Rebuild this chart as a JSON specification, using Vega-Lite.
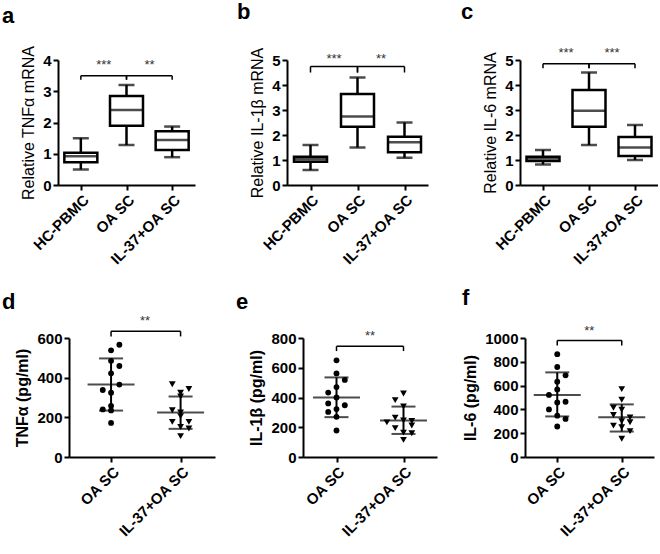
{
  "$schema": "https://vega.github.io/schema/vega-lite/v6.json",
  "padding": {"left": 2, "top": 0, "right": 0, "bottom": 0},
  "config": {
    "font": "Liberation Sans",
    "view": {"stroke": null},
    "axis": {"grid": false, "domainColor": "#000", "domainWidth": 2, "tickColor": "#000", "tickWidth": 2, "tickSize": 5,
      "labelFont": "Liberation Sans", "labelFontSize": 15, "labelFontWeight": "bold", "labelColor": "#000", "labelPadding": 2,
      "titleFont": "Liberation Sans", "titleFontSize": 16, "titleColor": "#000", "titlePadding": 6},
    "axisX": {"labelAngle": -45, "labelAlign": "right", "labelBaseline": "top"},
    "title": {"fontSize": 22, "fontWeight": "bold", "color": "#000", "anchor": "start", "frame": "group", "font": "Liberation Sans"}
  },
  "datasets": {
    "box_tnf": [
      {"group": "HC-PBMC", "min": 0.5, "q1": 0.73, "median": 0.92, "q3": 1.03, "max": 1.5},
      {"group": "OA SC", "min": 1.28, "q1": 1.9, "median": 2.4, "q3": 2.85, "max": 3.2},
      {"group": "IL-37+OA SC", "min": 0.89, "q1": 1.12, "median": 1.44, "q3": 1.72, "max": 1.87}
    ],
    "box_il1b": [
      {"group": "HC-PBMC", "min": 0.6, "q1": 0.93, "median": 1.03, "q3": 1.13, "max": 1.6},
      {"group": "OA SC", "min": 1.5, "q1": 2.33, "median": 2.74, "q3": 3.64, "max": 4.3},
      {"group": "IL-37+OA SC", "min": 1.09, "q1": 1.31, "median": 1.71, "q3": 1.93, "max": 2.5}
    ],
    "box_il6": [
      {"group": "HC-PBMC", "min": 0.82, "q1": 0.96, "median": 1.06, "q3": 1.13, "max": 1.4},
      {"group": "OA SC", "min": 1.6, "q1": 2.33, "median": 2.97, "q3": 3.8, "max": 4.5},
      {"group": "IL-37+OA SC", "min": 1.0, "q1": 1.16, "median": 1.5, "q3": 1.92, "max": 2.4}
    ],
    "sig_tnf_mrna": [
      {"from": "HC-PBMC", "to": "OA SC", "top": 3.5, "foot": 3.37, "stary": 3.85, "label": "***"},
      {"from": "OA SC", "to": "IL-37+OA SC", "top": 3.5, "foot": 3.37, "stary": 3.85, "label": "**"}
    ],
    "sig_il1b_mrna": [
      {"from": "HC-PBMC", "to": "OA SC", "top": 4.74, "foot": 4.5, "stary": 5.04, "label": "***"},
      {"from": "OA SC", "to": "IL-37+OA SC", "top": 4.74, "foot": 4.5, "stary": 5.04, "label": "**"}
    ],
    "sig_il6_mrna": [
      {"from": "HC-PBMC", "to": "OA SC", "top": 4.85, "foot": 4.67, "stary": 5.28, "label": "***"},
      {"from": "OA SC", "to": "IL-37+OA SC", "top": 4.85, "foot": 4.67, "stary": 5.28, "label": "***"}
    ],
    "pts_tnf": [
      {"group": "OA SC", "value": 566, "lane": 1}, {"group": "OA SC", "value": 538, "lane": 0}, {"group": "OA SC", "value": 485, "lane": 0},
      {"group": "OA SC", "value": 459, "lane": 1}, {"group": "OA SC", "value": 422, "lane": 0}, {"group": "OA SC", "value": 365, "lane": 1},
      {"group": "OA SC", "value": 338, "lane": -1}, {"group": "OA SC", "value": 324, "lane": 0}, {"group": "OA SC", "value": 258, "lane": 0},
      {"group": "OA SC", "value": 240, "lane": -1}, {"group": "OA SC", "value": 235, "lane": 0}, {"group": "OA SC", "value": 172, "lane": 0},
      {"group": "IL-37+OA SC", "value": 367, "lane": -1}, {"group": "IL-37+OA SC", "value": 343, "lane": 1}, {"group": "IL-37+OA SC", "value": 324, "lane": 0},
      {"group": "IL-37+OA SC", "value": 305, "lane": 0}, {"group": "IL-37+OA SC", "value": 236, "lane": -1}, {"group": "IL-37+OA SC", "value": 225, "lane": 0},
      {"group": "IL-37+OA SC", "value": 206, "lane": 0}, {"group": "IL-37+OA SC", "value": 177, "lane": -1}, {"group": "IL-37+OA SC", "value": 177, "lane": 1},
      {"group": "IL-37+OA SC", "value": 152, "lane": 0}, {"group": "IL-37+OA SC", "value": 144, "lane": 1}, {"group": "IL-37+OA SC", "value": 105, "lane": 0}
    ],
    "pts_il1b": [
      {"group": "OA SC", "value": 650, "lane": 0}, {"group": "OA SC", "value": 562, "lane": 0}, {"group": "OA SC", "value": 518, "lane": 1},
      {"group": "OA SC", "value": 470, "lane": 0}, {"group": "OA SC", "value": 433, "lane": -1}, {"group": "OA SC", "value": 400, "lane": 0},
      {"group": "OA SC", "value": 360, "lane": -1}, {"group": "OA SC", "value": 348, "lane": 1}, {"group": "OA SC", "value": 322, "lane": 0},
      {"group": "OA SC", "value": 303, "lane": -1}, {"group": "OA SC", "value": 270, "lane": 0}, {"group": "OA SC", "value": 178, "lane": 0},
      {"group": "IL-37+OA SC", "value": 427, "lane": 0}, {"group": "IL-37+OA SC", "value": 382, "lane": -1}, {"group": "IL-37+OA SC", "value": 340, "lane": 0},
      {"group": "IL-37+OA SC", "value": 265, "lane": -1}, {"group": "IL-37+OA SC", "value": 246, "lane": 0}, {"group": "IL-37+OA SC", "value": 242, "lane": 1},
      {"group": "IL-37+OA SC", "value": 233, "lane": -2}, {"group": "IL-37+OA SC", "value": 212, "lane": 1}, {"group": "IL-37+OA SC", "value": 194, "lane": -1},
      {"group": "IL-37+OA SC", "value": 164, "lane": 0}, {"group": "IL-37+OA SC", "value": 160, "lane": 1}, {"group": "IL-37+OA SC", "value": 115, "lane": 0}
    ],
    "pts_il6": [
      {"group": "OA SC", "value": 864, "lane": 0}, {"group": "OA SC", "value": 756, "lane": 0}, {"group": "OA SC", "value": 686, "lane": 1},
      {"group": "OA SC", "value": 633, "lane": 0}, {"group": "OA SC", "value": 567, "lane": 0}, {"group": "OA SC", "value": 522, "lane": -1},
      {"group": "OA SC", "value": 458, "lane": 0}, {"group": "OA SC", "value": 464, "lane": 1}, {"group": "OA SC", "value": 400, "lane": -1},
      {"group": "OA SC", "value": 347, "lane": 0}, {"group": "OA SC", "value": 320, "lane": 1}, {"group": "OA SC", "value": 256, "lane": 0},
      {"group": "IL-37+OA SC", "value": 570, "lane": 0}, {"group": "IL-37+OA SC", "value": 481, "lane": 0}, {"group": "IL-37+OA SC", "value": 414, "lane": -1},
      {"group": "IL-37+OA SC", "value": 397, "lane": 0}, {"group": "IL-37+OA SC", "value": 353, "lane": -1}, {"group": "IL-37+OA SC", "value": 333, "lane": 1},
      {"group": "IL-37+OA SC", "value": 300, "lane": 0}, {"group": "IL-37+OA SC", "value": 292, "lane": 1}, {"group": "IL-37+OA SC", "value": 264, "lane": -1},
      {"group": "IL-37+OA SC", "value": 250, "lane": 0}, {"group": "IL-37+OA SC", "value": 217, "lane": 1}, {"group": "IL-37+OA SC", "value": 153, "lane": 0}
    ],
    "sum_tnf": [
      {"group": "OA SC", "mean": 366, "lo": 234, "hi": 497},
      {"group": "IL-37+OA SC", "mean": 225, "lo": 142, "hi": 305}
    ],
    "sum_il1b": [
      {"group": "OA SC", "mean": 400, "lo": 268, "hi": 535},
      {"group": "IL-37+OA SC", "mean": 246, "lo": 155, "hi": 339}
    ],
    "sum_il6": [
      {"group": "OA SC", "mean": 522, "lo": 341, "hi": 711},
      {"group": "IL-37+OA SC", "mean": 333, "lo": 214, "hi": 442}
    ],
    "sig_tnf": [{"from": "OA SC", "to": "IL-37+OA SC", "top": 634, "foot": 608, "stary": 685, "label": "**"}],
    "sig_il1b": [{"from": "OA SC", "to": "IL-37+OA SC", "top": 744, "foot": 712, "stary": 814, "label": "**"}],
    "sig_il6": [{"from": "OA SC", "to": "IL-37+OA SC", "top": 980, "foot": 936, "stary": 1055, "label": "**"}]
  },
  "spacing": 19,
  "vconcat": [
    {
      "bounds": "flush",
      "spacing": 92,
      "hconcat": [
        {
          "width": 137, "height": 125,
          "title": {"text": "a", "dx": -56, "offset": 17},
          "layer": [
            {"data": {"name": "box_tnf"}, "mark": {"type": "rule", "strokeWidth": 2.5, "color": "#000"},
             "encoding": {
               "x": {"field": "group", "type": "nominal", "scale": {"type": "point", "domain": ["HC-PBMC", "OA SC", "IL-37+OA SC"], "padding": 0.5}, "axis": {"title": null}},
               "y": {"field": "min", "type": "quantitative", "scale": {"domain": [0, 4], "nice": false}, "axis": {"values": [0, 1, 2, 3, 4], "labelOverlap": false, "labelFlush": false, "title": "Relative TNFα mRNA", "titleFontWeight": "normal"}},
               "y2": {"field": "max"}}},
            {"data": {"name": "box_tnf"}, "mark": {"type": "bar", "size": 33, "fill": "#fff", "stroke": "#000", "strokeWidth": 2.5},
             "encoding": {
               "x": {"field": "group", "type": "nominal", "scale": {"type": "point", "domain": ["HC-PBMC", "OA SC", "IL-37+OA SC"], "padding": 0.5}, "axis": {"title": null}},
               "y": {"field": "q1", "type": "quantitative", "scale": {"domain": [0, 4], "nice": false}, "axis": {"values": [0, 1, 2, 3, 4], "labelOverlap": false, "labelFlush": false, "title": "Relative TNFα mRNA", "titleFontWeight": "normal"}},
               "y2": {"field": "q3"}}},
            {"data": {"name": "box_tnf"}, "mark": {"type": "tick", "size": 33, "thickness": 2.5, "color": "#000"},
             "encoding": {
               "x": {"field": "group", "type": "nominal", "scale": {"type": "point", "domain": ["HC-PBMC", "OA SC", "IL-37+OA SC"], "padding": 0.5}, "axis": {"title": null}},
               "y": {"field": "median", "type": "quantitative", "scale": {"domain": [0, 4], "nice": false}, "axis": {"values": [0, 1, 2, 3, 4], "labelOverlap": false, "labelFlush": false, "title": "Relative TNFα mRNA", "titleFontWeight": "normal"}}}},
            {"data": {"name": "box_tnf"}, "mark": {"type": "tick", "size": 16, "thickness": 2.5, "color": "#000"},
             "encoding": {
               "x": {"field": "group", "type": "nominal", "scale": {"type": "point", "domain": ["HC-PBMC", "OA SC", "IL-37+OA SC"], "padding": 0.5}, "axis": {"title": null}},
               "y": {"field": "min", "type": "quantitative", "scale": {"domain": [0, 4], "nice": false}, "axis": {"values": [0, 1, 2, 3, 4], "labelOverlap": false, "labelFlush": false, "title": "Relative TNFα mRNA", "titleFontWeight": "normal"}}}},
            {"data": {"name": "box_tnf"}, "mark": {"type": "tick", "size": 16, "thickness": 2.5, "color": "#000"},
             "encoding": {
               "x": {"field": "group", "type": "nominal", "scale": {"type": "point", "domain": ["HC-PBMC", "OA SC", "IL-37+OA SC"], "padding": 0.5}, "axis": {"title": null}},
               "y": {"field": "max", "type": "quantitative", "scale": {"domain": [0, 4], "nice": false}, "axis": {"values": [0, 1, 2, 3, 4], "labelOverlap": false, "labelFlush": false, "title": "Relative TNFα mRNA", "titleFontWeight": "normal"}}}},
            {"data": {"name": "sig_tnf_mrna"}, "mark": {"type": "rule", "strokeWidth": 1.5, "color": "#000"},
             "encoding": {
               "x": {"field": "from", "type": "nominal", "scale": {"type": "point", "domain": ["HC-PBMC", "OA SC", "IL-37+OA SC"], "padding": 0.5}, "axis": {"title": null}},
               "x2": {"field": "to"},
               "y": {"field": "top", "type": "quantitative", "scale": {"domain": [0, 4], "nice": false}, "axis": {"values": [0, 1, 2, 3, 4], "labelOverlap": false, "labelFlush": false, "title": "Relative TNFα mRNA", "titleFontWeight": "normal"}}}},
            {"data": {"name": "sig_tnf_mrna"}, "mark": {"type": "rule", "strokeWidth": 1.5, "color": "#000"},
             "encoding": {
               "x": {"field": "from", "type": "nominal", "scale": {"type": "point", "domain": ["HC-PBMC", "OA SC", "IL-37+OA SC"], "padding": 0.5}, "axis": {"title": null}},
               "y": {"field": "foot", "type": "quantitative", "scale": {"domain": [0, 4], "nice": false}, "axis": {"values": [0, 1, 2, 3, 4], "labelOverlap": false, "labelFlush": false, "title": "Relative TNFα mRNA", "titleFontWeight": "normal"}},
               "y2": {"field": "top"}}},
            {"data": {"name": "sig_tnf_mrna"}, "mark": {"type": "rule", "strokeWidth": 1.5, "color": "#000"},
             "encoding": {
               "x": {"field": "to", "type": "nominal", "scale": {"type": "point", "domain": ["HC-PBMC", "OA SC", "IL-37+OA SC"], "padding": 0.5}, "axis": {"title": null}},
               "y": {"field": "foot", "type": "quantitative", "scale": {"domain": [0, 4], "nice": false}, "axis": {"values": [0, 1, 2, 3, 4], "labelOverlap": false, "labelFlush": false, "title": "Relative TNFα mRNA", "titleFontWeight": "normal"}},
               "y2": {"field": "top"}}},
            {"data": {"name": "sig_tnf_mrna"}, "mark": {"type": "text", "dx": 23, "fontSize": 13, "color": "#333", "baseline": "middle"},
             "encoding": {
               "x": {"field": "from", "type": "nominal", "scale": {"type": "point", "domain": ["HC-PBMC", "OA SC", "IL-37+OA SC"], "padding": 0.5}, "axis": {"title": null}},
               "y": {"field": "stary", "type": "quantitative", "scale": {"domain": [0, 4], "nice": false}, "axis": {"values": [0, 1, 2, 3, 4], "labelOverlap": false, "labelFlush": false, "title": "Relative TNFα mRNA", "titleFontWeight": "normal"}},
               "text": {"field": "label"}}}
          ]
        },
        {
          "width": 141, "height": 125,
          "title": {"text": "b", "dx": -50, "offset": 23},
          "layer": [
            {"data": {"name": "box_il1b"}, "mark": {"type": "rule", "strokeWidth": 2.5, "color": "#000"},
             "encoding": {
               "x": {"field": "group", "type": "nominal", "scale": {"type": "point", "domain": ["HC-PBMC", "OA SC", "IL-37+OA SC"], "padding": 0.5}, "axis": {"title": null}},
               "y": {"field": "min", "type": "quantitative", "scale": {"domain": [0, 5], "nice": false}, "axis": {"values": [0, 1, 2, 3, 4, 5], "labelOverlap": false, "labelFlush": false, "title": "Relative IL-1β mRNA", "titleFontWeight": "normal"}},
               "y2": {"field": "max"}}},
            {"data": {"name": "box_il1b"}, "mark": {"type": "bar", "size": 33, "fill": "#fff", "stroke": "#000", "strokeWidth": 2.5},
             "encoding": {
               "x": {"field": "group", "type": "nominal", "scale": {"type": "point", "domain": ["HC-PBMC", "OA SC", "IL-37+OA SC"], "padding": 0.5}, "axis": {"title": null}},
               "y": {"field": "q1", "type": "quantitative", "scale": {"domain": [0, 5], "nice": false}, "axis": {"values": [0, 1, 2, 3, 4, 5], "labelOverlap": false, "labelFlush": false, "title": "Relative IL-1β mRNA", "titleFontWeight": "normal"}},
               "y2": {"field": "q3"}}},
            {"data": {"name": "box_il1b"}, "mark": {"type": "tick", "size": 33, "thickness": 2.5, "color": "#000"},
             "encoding": {
               "x": {"field": "group", "type": "nominal", "scale": {"type": "point", "domain": ["HC-PBMC", "OA SC", "IL-37+OA SC"], "padding": 0.5}, "axis": {"title": null}},
               "y": {"field": "median", "type": "quantitative", "scale": {"domain": [0, 5], "nice": false}, "axis": {"values": [0, 1, 2, 3, 4, 5], "labelOverlap": false, "labelFlush": false, "title": "Relative IL-1β mRNA", "titleFontWeight": "normal"}}}},
            {"data": {"name": "box_il1b"}, "mark": {"type": "tick", "size": 16, "thickness": 2.5, "color": "#000"},
             "encoding": {
               "x": {"field": "group", "type": "nominal", "scale": {"type": "point", "domain": ["HC-PBMC", "OA SC", "IL-37+OA SC"], "padding": 0.5}, "axis": {"title": null}},
               "y": {"field": "min", "type": "quantitative", "scale": {"domain": [0, 5], "nice": false}, "axis": {"values": [0, 1, 2, 3, 4, 5], "labelOverlap": false, "labelFlush": false, "title": "Relative IL-1β mRNA", "titleFontWeight": "normal"}}}},
            {"data": {"name": "box_il1b"}, "mark": {"type": "tick", "size": 16, "thickness": 2.5, "color": "#000"},
             "encoding": {
               "x": {"field": "group", "type": "nominal", "scale": {"type": "point", "domain": ["HC-PBMC", "OA SC", "IL-37+OA SC"], "padding": 0.5}, "axis": {"title": null}},
               "y": {"field": "max", "type": "quantitative", "scale": {"domain": [0, 5], "nice": false}, "axis": {"values": [0, 1, 2, 3, 4, 5], "labelOverlap": false, "labelFlush": false, "title": "Relative IL-1β mRNA", "titleFontWeight": "normal"}}}},
            {"data": {"name": "sig_il1b_mrna"}, "mark": {"type": "rule", "strokeWidth": 1.5, "color": "#000"},
             "encoding": {
               "x": {"field": "from", "type": "nominal", "scale": {"type": "point", "domain": ["HC-PBMC", "OA SC", "IL-37+OA SC"], "padding": 0.5}, "axis": {"title": null}},
               "x2": {"field": "to"},
               "y": {"field": "top", "type": "quantitative", "scale": {"domain": [0, 5], "nice": false}, "axis": {"values": [0, 1, 2, 3, 4, 5], "labelOverlap": false, "labelFlush": false, "title": "Relative IL-1β mRNA", "titleFontWeight": "normal"}}}},
            {"data": {"name": "sig_il1b_mrna"}, "mark": {"type": "rule", "strokeWidth": 1.5, "color": "#000"},
             "encoding": {
               "x": {"field": "from", "type": "nominal", "scale": {"type": "point", "domain": ["HC-PBMC", "OA SC", "IL-37+OA SC"], "padding": 0.5}, "axis": {"title": null}},
               "y": {"field": "foot", "type": "quantitative", "scale": {"domain": [0, 5], "nice": false}, "axis": {"values": [0, 1, 2, 3, 4, 5], "labelOverlap": false, "labelFlush": false, "title": "Relative IL-1β mRNA", "titleFontWeight": "normal"}},
               "y2": {"field": "top"}}},
            {"data": {"name": "sig_il1b_mrna"}, "mark": {"type": "rule", "strokeWidth": 1.5, "color": "#000"},
             "encoding": {
               "x": {"field": "to", "type": "nominal", "scale": {"type": "point", "domain": ["HC-PBMC", "OA SC", "IL-37+OA SC"], "padding": 0.5}, "axis": {"title": null}},
               "y": {"field": "foot", "type": "quantitative", "scale": {"domain": [0, 5], "nice": false}, "axis": {"values": [0, 1, 2, 3, 4, 5], "labelOverlap": false, "labelFlush": false, "title": "Relative IL-1β mRNA", "titleFontWeight": "normal"}},
               "y2": {"field": "top"}}},
            {"data": {"name": "sig_il1b_mrna"}, "mark": {"type": "text", "dx": 23.5, "fontSize": 13, "color": "#333", "baseline": "middle"},
             "encoding": {
               "x": {"field": "from", "type": "nominal", "scale": {"type": "point", "domain": ["HC-PBMC", "OA SC", "IL-37+OA SC"], "padding": 0.5}, "axis": {"title": null}},
               "y": {"field": "stary", "type": "quantitative", "scale": {"domain": [0, 5], "nice": false}, "axis": {"values": [0, 1, 2, 3, 4, 5], "labelOverlap": false, "labelFlush": false, "title": "Relative IL-1β mRNA", "titleFontWeight": "normal"}},
               "text": {"field": "label"}}}
          ]
        },
        {
          "width": 138, "height": 125,
          "title": {"text": "c", "dx": -59, "offset": 23},
          "layer": [
            {"data": {"name": "box_il6"}, "mark": {"type": "rule", "strokeWidth": 2.5, "color": "#000"},
             "encoding": {
               "x": {"field": "group", "type": "nominal", "scale": {"type": "point", "domain": ["HC-PBMC", "OA SC", "IL-37+OA SC"], "padding": 0.5}, "axis": {"title": null}},
               "y": {"field": "min", "type": "quantitative", "scale": {"domain": [0, 5], "nice": false}, "axis": {"values": [0, 1, 2, 3, 4, 5], "labelOverlap": false, "labelFlush": false, "title": "Relative IL-6 mRNA", "titleFontWeight": "normal"}},
               "y2": {"field": "max"}}},
            {"data": {"name": "box_il6"}, "mark": {"type": "bar", "size": 33, "fill": "#fff", "stroke": "#000", "strokeWidth": 2.5},
             "encoding": {
               "x": {"field": "group", "type": "nominal", "scale": {"type": "point", "domain": ["HC-PBMC", "OA SC", "IL-37+OA SC"], "padding": 0.5}, "axis": {"title": null}},
               "y": {"field": "q1", "type": "quantitative", "scale": {"domain": [0, 5], "nice": false}, "axis": {"values": [0, 1, 2, 3, 4, 5], "labelOverlap": false, "labelFlush": false, "title": "Relative IL-6 mRNA", "titleFontWeight": "normal"}},
               "y2": {"field": "q3"}}},
            {"data": {"name": "box_il6"}, "mark": {"type": "tick", "size": 33, "thickness": 2.5, "color": "#000"},
             "encoding": {
               "x": {"field": "group", "type": "nominal", "scale": {"type": "point", "domain": ["HC-PBMC", "OA SC", "IL-37+OA SC"], "padding": 0.5}, "axis": {"title": null}},
               "y": {"field": "median", "type": "quantitative", "scale": {"domain": [0, 5], "nice": false}, "axis": {"values": [0, 1, 2, 3, 4, 5], "labelOverlap": false, "labelFlush": false, "title": "Relative IL-6 mRNA", "titleFontWeight": "normal"}}}},
            {"data": {"name": "box_il6"}, "mark": {"type": "tick", "size": 16, "thickness": 2.5, "color": "#000"},
             "encoding": {
               "x": {"field": "group", "type": "nominal", "scale": {"type": "point", "domain": ["HC-PBMC", "OA SC", "IL-37+OA SC"], "padding": 0.5}, "axis": {"title": null}},
               "y": {"field": "min", "type": "quantitative", "scale": {"domain": [0, 5], "nice": false}, "axis": {"values": [0, 1, 2, 3, 4, 5], "labelOverlap": false, "labelFlush": false, "title": "Relative IL-6 mRNA", "titleFontWeight": "normal"}}}},
            {"data": {"name": "box_il6"}, "mark": {"type": "tick", "size": 16, "thickness": 2.5, "color": "#000"},
             "encoding": {
               "x": {"field": "group", "type": "nominal", "scale": {"type": "point", "domain": ["HC-PBMC", "OA SC", "IL-37+OA SC"], "padding": 0.5}, "axis": {"title": null}},
               "y": {"field": "max", "type": "quantitative", "scale": {"domain": [0, 5], "nice": false}, "axis": {"values": [0, 1, 2, 3, 4, 5], "labelOverlap": false, "labelFlush": false, "title": "Relative IL-6 mRNA", "titleFontWeight": "normal"}}}},
            {"data": {"name": "sig_il6_mrna"}, "mark": {"type": "rule", "strokeWidth": 1.5, "color": "#000"},
             "encoding": {
               "x": {"field": "from", "type": "nominal", "scale": {"type": "point", "domain": ["HC-PBMC", "OA SC", "IL-37+OA SC"], "padding": 0.5}, "axis": {"title": null}},
               "x2": {"field": "to"},
               "y": {"field": "top", "type": "quantitative", "scale": {"domain": [0, 5], "nice": false}, "axis": {"values": [0, 1, 2, 3, 4, 5], "labelOverlap": false, "labelFlush": false, "title": "Relative IL-6 mRNA", "titleFontWeight": "normal"}}}},
            {"data": {"name": "sig_il6_mrna"}, "mark": {"type": "rule", "strokeWidth": 1.5, "color": "#000"},
             "encoding": {
               "x": {"field": "from", "type": "nominal", "scale": {"type": "point", "domain": ["HC-PBMC", "OA SC", "IL-37+OA SC"], "padding": 0.5}, "axis": {"title": null}},
               "y": {"field": "foot", "type": "quantitative", "scale": {"domain": [0, 5], "nice": false}, "axis": {"values": [0, 1, 2, 3, 4, 5], "labelOverlap": false, "labelFlush": false, "title": "Relative IL-6 mRNA", "titleFontWeight": "normal"}},
               "y2": {"field": "top"}}},
            {"data": {"name": "sig_il6_mrna"}, "mark": {"type": "rule", "strokeWidth": 1.5, "color": "#000"},
             "encoding": {
               "x": {"field": "to", "type": "nominal", "scale": {"type": "point", "domain": ["HC-PBMC", "OA SC", "IL-37+OA SC"], "padding": 0.5}, "axis": {"title": null}},
               "y": {"field": "foot", "type": "quantitative", "scale": {"domain": [0, 5], "nice": false}, "axis": {"values": [0, 1, 2, 3, 4, 5], "labelOverlap": false, "labelFlush": false, "title": "Relative IL-6 mRNA", "titleFontWeight": "normal"}},
               "y2": {"field": "top"}}},
            {"data": {"name": "sig_il6_mrna"}, "mark": {"type": "text", "dx": 23, "fontSize": 13, "color": "#333", "baseline": "middle"},
             "encoding": {
               "x": {"field": "from", "type": "nominal", "scale": {"type": "point", "domain": ["HC-PBMC", "OA SC", "IL-37+OA SC"], "padding": 0.5}, "axis": {"title": null}},
               "y": {"field": "stary", "type": "quantitative", "scale": {"domain": [0, 5], "nice": false}, "axis": {"values": [0, 1, 2, 3, 4, 5], "labelOverlap": false, "labelFlush": false, "title": "Relative IL-6 mRNA", "titleFontWeight": "normal"}},
               "text": {"field": "label"}}}
          ]
        }
      ]
    },
    {
      "bounds": "flush",
      "spacing": 88,
      "hconcat": [
        {
          "width": 157, "height": 119,
          "title": {"text": "d", "dx": -56, "offset": 1},
          "layer": [
            {"data": {"name": "pts_tnf"}, "mark": {"type": "point", "filled": true, "opacity": 1, "color": "#000"},
             "encoding": {
               "x": {"field": "group", "type": "nominal", "scale": {"type": "point", "domain": ["OA SC", "IL-37+OA SC"], "range": [11, 157], "padding": 0.55, "align": 0.55}, "axis": {"title": null}},
               "xOffset": {"field": "lane", "type": "quantitative", "scale": {"domain": [-1, 1], "range": [-8.3, 8.3]}},
               "y": {"field": "value", "type": "quantitative", "scale": {"domain": [0, 600], "nice": false}, "axis": {"values": [0, 200, 400, 600], "labelOverlap": false, "labelFlush": false, "offset": -11, "title": "TNFα (pg/ml)", "titleFontWeight": "bold"}},
               "shape": {"field": "group", "type": "nominal", "scale": {"domain": ["OA SC", "IL-37+OA SC"], "range": ["circle", "triangle-down"]}, "legend": null},
               "size": {"field": "group", "type": "nominal", "scale": {"domain": ["OA SC", "IL-37+OA SC"], "range": [34, 46]}, "legend": null}}},
            {"data": {"name": "sum_tnf"}, "mark": {"type": "rule", "strokeWidth": 2, "color": "#000"},
             "encoding": {
               "x": {"field": "group", "type": "nominal", "scale": {"type": "point", "domain": ["OA SC", "IL-37+OA SC"], "range": [11, 157], "padding": 0.55, "align": 0.55}, "axis": {"title": null}},
               "y": {"field": "lo", "type": "quantitative", "scale": {"domain": [0, 600], "nice": false}, "axis": {"values": [0, 200, 400, 600], "labelOverlap": false, "labelFlush": false, "offset": -11, "title": "TNFα (pg/ml)", "titleFontWeight": "bold"}},
               "y2": {"field": "hi"}}},
            {"data": {"name": "sum_tnf"}, "mark": {"type": "tick", "size": 47, "thickness": 2, "color": "#000"},
             "encoding": {
               "x": {"field": "group", "type": "nominal", "scale": {"type": "point", "domain": ["OA SC", "IL-37+OA SC"], "range": [11, 157], "padding": 0.55, "align": 0.55}, "axis": {"title": null}},
               "y": {"field": "mean", "type": "quantitative", "scale": {"domain": [0, 600], "nice": false}, "axis": {"values": [0, 200, 400, 600], "labelOverlap": false, "labelFlush": false, "offset": -11, "title": "TNFα (pg/ml)", "titleFontWeight": "bold"}}}},
            {"data": {"name": "sum_tnf"}, "mark": {"type": "tick", "size": 24, "thickness": 2, "color": "#000"},
             "encoding": {
               "x": {"field": "group", "type": "nominal", "scale": {"type": "point", "domain": ["OA SC", "IL-37+OA SC"], "range": [11, 157], "padding": 0.55, "align": 0.55}, "axis": {"title": null}},
               "y": {"field": "lo", "type": "quantitative", "scale": {"domain": [0, 600], "nice": false}, "axis": {"values": [0, 200, 400, 600], "labelOverlap": false, "labelFlush": false, "offset": -11, "title": "TNFα (pg/ml)", "titleFontWeight": "bold"}}}},
            {"data": {"name": "sum_tnf"}, "mark": {"type": "tick", "size": 24, "thickness": 2, "color": "#000"},
             "encoding": {
               "x": {"field": "group", "type": "nominal", "scale": {"type": "point", "domain": ["OA SC", "IL-37+OA SC"], "range": [11, 157], "padding": 0.55, "align": 0.55}, "axis": {"title": null}},
               "y": {"field": "hi", "type": "quantitative", "scale": {"domain": [0, 600], "nice": false}, "axis": {"values": [0, 200, 400, 600], "labelOverlap": false, "labelFlush": false, "offset": -11, "title": "TNFα (pg/ml)", "titleFontWeight": "bold"}}}},
            {"data": {"name": "sig_tnf"}, "mark": {"type": "rule", "strokeWidth": 1.5, "color": "#000"},
             "encoding": {
               "x": {"field": "from", "type": "nominal", "scale": {"type": "point", "domain": ["OA SC", "IL-37+OA SC"], "range": [11, 157], "padding": 0.55, "align": 0.55}, "axis": {"title": null}},
               "x2": {"field": "to"},
               "y": {"field": "top", "type": "quantitative", "scale": {"domain": [0, 600], "nice": false}, "axis": {"values": [0, 200, 400, 600], "labelOverlap": false, "labelFlush": false, "offset": -11, "title": "TNFα (pg/ml)", "titleFontWeight": "bold"}}}},
            {"data": {"name": "sig_tnf"}, "mark": {"type": "rule", "strokeWidth": 1.5, "color": "#000"},
             "encoding": {
               "x": {"field": "from", "type": "nominal", "scale": {"type": "point", "domain": ["OA SC", "IL-37+OA SC"], "range": [11, 157], "padding": 0.55, "align": 0.55}, "axis": {"title": null}},
               "y": {"field": "foot", "type": "quantitative", "scale": {"domain": [0, 600], "nice": false}, "axis": {"values": [0, 200, 400, 600], "labelOverlap": false, "labelFlush": false, "offset": -11, "title": "TNFα (pg/ml)", "titleFontWeight": "bold"}},
               "y2": {"field": "top"}}},
            {"data": {"name": "sig_tnf"}, "mark": {"type": "rule", "strokeWidth": 1.5, "color": "#000"},
             "encoding": {
               "x": {"field": "to", "type": "nominal", "scale": {"type": "point", "domain": ["OA SC", "IL-37+OA SC"], "range": [11, 157], "padding": 0.55, "align": 0.55}, "axis": {"title": null}},
               "y": {"field": "foot", "type": "quantitative", "scale": {"domain": [0, 600], "nice": false}, "axis": {"values": [0, 200, 400, 600], "labelOverlap": false, "labelFlush": false, "offset": -11, "title": "TNFα (pg/ml)", "titleFontWeight": "bold"}},
               "y2": {"field": "top"}}},
            {"data": {"name": "sig_tnf"}, "mark": {"type": "text", "dx": 34, "fontSize": 13, "color": "#333", "baseline": "middle"},
             "encoding": {
               "x": {"field": "from", "type": "nominal", "scale": {"type": "point", "domain": ["OA SC", "IL-37+OA SC"], "range": [11, 157], "padding": 0.55, "align": 0.55}, "axis": {"title": null}},
               "y": {"field": "stary", "type": "quantitative", "scale": {"domain": [0, 600], "nice": false}, "axis": {"values": [0, 200, 400, 600], "labelOverlap": false, "labelFlush": false, "offset": -11, "title": "TNFα (pg/ml)", "titleFontWeight": "bold"}},
               "text": {"field": "label"}}}
          ]
        },
        {
          "width": 134, "height": 119,
          "title": {"text": "e", "dx": -67, "offset": 16},
          "layer": [
            {"data": {"name": "pts_il1b"}, "mark": {"type": "point", "filled": true, "opacity": 1, "color": "#000"},
             "encoding": {
               "x": {"field": "group", "type": "nominal", "scale": {"type": "point", "domain": ["OA SC", "IL-37+OA SC"], "padding": 0.5}, "axis": {"title": null}},
               "xOffset": {"field": "lane", "type": "quantitative", "scale": {"domain": [-1, 1], "range": [-8.3, 8.3]}},
               "y": {"field": "value", "type": "quantitative", "scale": {"domain": [0, 800], "nice": false}, "axis": {"values": [0, 200, 400, 600, 800], "labelOverlap": false, "labelFlush": false, "title": "IL-1β (pg/ml)", "titleFontWeight": "bold"}},
               "shape": {"field": "group", "type": "nominal", "scale": {"domain": ["OA SC", "IL-37+OA SC"], "range": ["circle", "triangle-down"]}, "legend": null},
               "size": {"field": "group", "type": "nominal", "scale": {"domain": ["OA SC", "IL-37+OA SC"], "range": [34, 46]}, "legend": null}}},
            {"data": {"name": "sum_il1b"}, "mark": {"type": "rule", "strokeWidth": 2, "color": "#000"},
             "encoding": {
               "x": {"field": "group", "type": "nominal", "scale": {"type": "point", "domain": ["OA SC", "IL-37+OA SC"], "padding": 0.5}, "axis": {"title": null}},
               "y": {"field": "lo", "type": "quantitative", "scale": {"domain": [0, 800], "nice": false}, "axis": {"values": [0, 200, 400, 600, 800], "labelOverlap": false, "labelFlush": false, "title": "IL-1β (pg/ml)", "titleFontWeight": "bold"}},
               "y2": {"field": "hi"}}},
            {"data": {"name": "sum_il1b"}, "mark": {"type": "tick", "size": 47, "thickness": 2, "color": "#000"},
             "encoding": {
               "x": {"field": "group", "type": "nominal", "scale": {"type": "point", "domain": ["OA SC", "IL-37+OA SC"], "padding": 0.5}, "axis": {"title": null}},
               "y": {"field": "mean", "type": "quantitative", "scale": {"domain": [0, 800], "nice": false}, "axis": {"values": [0, 200, 400, 600, 800], "labelOverlap": false, "labelFlush": false, "title": "IL-1β (pg/ml)", "titleFontWeight": "bold"}}}},
            {"data": {"name": "sum_il1b"}, "mark": {"type": "tick", "size": 24, "thickness": 2, "color": "#000"},
             "encoding": {
               "x": {"field": "group", "type": "nominal", "scale": {"type": "point", "domain": ["OA SC", "IL-37+OA SC"], "padding": 0.5}, "axis": {"title": null}},
               "y": {"field": "lo", "type": "quantitative", "scale": {"domain": [0, 800], "nice": false}, "axis": {"values": [0, 200, 400, 600, 800], "labelOverlap": false, "labelFlush": false, "title": "IL-1β (pg/ml)", "titleFontWeight": "bold"}}}},
            {"data": {"name": "sum_il1b"}, "mark": {"type": "tick", "size": 24, "thickness": 2, "color": "#000"},
             "encoding": {
               "x": {"field": "group", "type": "nominal", "scale": {"type": "point", "domain": ["OA SC", "IL-37+OA SC"], "padding": 0.5}, "axis": {"title": null}},
               "y": {"field": "hi", "type": "quantitative", "scale": {"domain": [0, 800], "nice": false}, "axis": {"values": [0, 200, 400, 600, 800], "labelOverlap": false, "labelFlush": false, "title": "IL-1β (pg/ml)", "titleFontWeight": "bold"}}}},
            {"data": {"name": "sig_il1b"}, "mark": {"type": "rule", "strokeWidth": 1.5, "color": "#000"},
             "encoding": {
               "x": {"field": "from", "type": "nominal", "scale": {"type": "point", "domain": ["OA SC", "IL-37+OA SC"], "padding": 0.5}, "axis": {"title": null}},
               "x2": {"field": "to"},
               "y": {"field": "top", "type": "quantitative", "scale": {"domain": [0, 800], "nice": false}, "axis": {"values": [0, 200, 400, 600, 800], "labelOverlap": false, "labelFlush": false, "title": "IL-1β (pg/ml)", "titleFontWeight": "bold"}}}},
            {"data": {"name": "sig_il1b"}, "mark": {"type": "rule", "strokeWidth": 1.5, "color": "#000"},
             "encoding": {
               "x": {"field": "from", "type": "nominal", "scale": {"type": "point", "domain": ["OA SC", "IL-37+OA SC"], "padding": 0.5}, "axis": {"title": null}},
               "y": {"field": "foot", "type": "quantitative", "scale": {"domain": [0, 800], "nice": false}, "axis": {"values": [0, 200, 400, 600, 800], "labelOverlap": false, "labelFlush": false, "title": "IL-1β (pg/ml)", "titleFontWeight": "bold"}},
               "y2": {"field": "top"}}},
            {"data": {"name": "sig_il1b"}, "mark": {"type": "rule", "strokeWidth": 1.5, "color": "#000"},
             "encoding": {
               "x": {"field": "to", "type": "nominal", "scale": {"type": "point", "domain": ["OA SC", "IL-37+OA SC"], "padding": 0.5}, "axis": {"title": null}},
               "y": {"field": "foot", "type": "quantitative", "scale": {"domain": [0, 800], "nice": false}, "axis": {"values": [0, 200, 400, 600, 800], "labelOverlap": false, "labelFlush": false, "title": "IL-1β (pg/ml)", "titleFontWeight": "bold"}},
               "y2": {"field": "top"}}},
            {"data": {"name": "sig_il1b"}, "mark": {"type": "text", "dx": 33.5, "fontSize": 13, "color": "#333", "baseline": "middle"},
             "encoding": {
               "x": {"field": "from", "type": "nominal", "scale": {"type": "point", "domain": ["OA SC", "IL-37+OA SC"], "padding": 0.5}, "axis": {"title": null}},
               "y": {"field": "stary", "type": "quantitative", "scale": {"domain": [0, 800], "nice": false}, "axis": {"values": [0, 200, 400, 600, 800], "labelOverlap": false, "labelFlush": false, "title": "IL-1β (pg/ml)", "titleFontWeight": "bold"}},
               "text": {"field": "label"}}}
          ]
        },
        {
          "width": 129, "height": 119,
          "title": {"text": "f", "dx": -63, "offset": 15},
          "layer": [
            {"data": {"name": "pts_il6"}, "mark": {"type": "point", "filled": true, "opacity": 1, "color": "#000"},
             "encoding": {
               "x": {"field": "group", "type": "nominal", "scale": {"type": "point", "domain": ["OA SC", "IL-37+OA SC"], "padding": 0.5}, "axis": {"title": null}},
               "xOffset": {"field": "lane", "type": "quantitative", "scale": {"domain": [-1, 1], "range": [-8.3, 8.3]}},
               "y": {"field": "value", "type": "quantitative", "scale": {"domain": [0, 1000], "nice": false}, "axis": {"values": [0, 200, 400, 600, 800, 1000], "format": "d", "labelOverlap": false, "labelFlush": false, "title": "IL-6 (pg/ml)", "titleFontWeight": "bold"}},
               "shape": {"field": "group", "type": "nominal", "scale": {"domain": ["OA SC", "IL-37+OA SC"], "range": ["circle", "triangle-down"]}, "legend": null},
               "size": {"field": "group", "type": "nominal", "scale": {"domain": ["OA SC", "IL-37+OA SC"], "range": [34, 46]}, "legend": null}}},
            {"data": {"name": "sum_il6"}, "mark": {"type": "rule", "strokeWidth": 2, "color": "#000"},
             "encoding": {
               "x": {"field": "group", "type": "nominal", "scale": {"type": "point", "domain": ["OA SC", "IL-37+OA SC"], "padding": 0.5}, "axis": {"title": null}},
               "y": {"field": "lo", "type": "quantitative", "scale": {"domain": [0, 1000], "nice": false}, "axis": {"values": [0, 200, 400, 600, 800, 1000], "format": "d", "labelOverlap": false, "labelFlush": false, "title": "IL-6 (pg/ml)", "titleFontWeight": "bold"}},
               "y2": {"field": "hi"}}},
            {"data": {"name": "sum_il6"}, "mark": {"type": "tick", "size": 47, "thickness": 2, "color": "#000"},
             "encoding": {
               "x": {"field": "group", "type": "nominal", "scale": {"type": "point", "domain": ["OA SC", "IL-37+OA SC"], "padding": 0.5}, "axis": {"title": null}},
               "y": {"field": "mean", "type": "quantitative", "scale": {"domain": [0, 1000], "nice": false}, "axis": {"values": [0, 200, 400, 600, 800, 1000], "format": "d", "labelOverlap": false, "labelFlush": false, "title": "IL-6 (pg/ml)", "titleFontWeight": "bold"}}}},
            {"data": {"name": "sum_il6"}, "mark": {"type": "tick", "size": 24, "thickness": 2, "color": "#000"},
             "encoding": {
               "x": {"field": "group", "type": "nominal", "scale": {"type": "point", "domain": ["OA SC", "IL-37+OA SC"], "padding": 0.5}, "axis": {"title": null}},
               "y": {"field": "lo", "type": "quantitative", "scale": {"domain": [0, 1000], "nice": false}, "axis": {"values": [0, 200, 400, 600, 800, 1000], "format": "d", "labelOverlap": false, "labelFlush": false, "title": "IL-6 (pg/ml)", "titleFontWeight": "bold"}}}},
            {"data": {"name": "sum_il6"}, "mark": {"type": "tick", "size": 24, "thickness": 2, "color": "#000"},
             "encoding": {
               "x": {"field": "group", "type": "nominal", "scale": {"type": "point", "domain": ["OA SC", "IL-37+OA SC"], "padding": 0.5}, "axis": {"title": null}},
               "y": {"field": "hi", "type": "quantitative", "scale": {"domain": [0, 1000], "nice": false}, "axis": {"values": [0, 200, 400, 600, 800, 1000], "format": "d", "labelOverlap": false, "labelFlush": false, "title": "IL-6 (pg/ml)", "titleFontWeight": "bold"}}}},
            {"data": {"name": "sig_il6"}, "mark": {"type": "rule", "strokeWidth": 1.5, "color": "#000"},
             "encoding": {
               "x": {"field": "from", "type": "nominal", "scale": {"type": "point", "domain": ["OA SC", "IL-37+OA SC"], "padding": 0.5}, "axis": {"title": null}},
               "x2": {"field": "to"},
               "y": {"field": "top", "type": "quantitative", "scale": {"domain": [0, 1000], "nice": false}, "axis": {"values": [0, 200, 400, 600, 800, 1000], "format": "d", "labelOverlap": false, "labelFlush": false, "title": "IL-6 (pg/ml)", "titleFontWeight": "bold"}}}},
            {"data": {"name": "sig_il6"}, "mark": {"type": "rule", "strokeWidth": 1.5, "color": "#000"},
             "encoding": {
               "x": {"field": "from", "type": "nominal", "scale": {"type": "point", "domain": ["OA SC", "IL-37+OA SC"], "padding": 0.5}, "axis": {"title": null}},
               "y": {"field": "foot", "type": "quantitative", "scale": {"domain": [0, 1000], "nice": false}, "axis": {"values": [0, 200, 400, 600, 800, 1000], "format": "d", "labelOverlap": false, "labelFlush": false, "title": "IL-6 (pg/ml)", "titleFontWeight": "bold"}},
               "y2": {"field": "top"}}},
            {"data": {"name": "sig_il6"}, "mark": {"type": "rule", "strokeWidth": 1.5, "color": "#000"},
             "encoding": {
               "x": {"field": "to", "type": "nominal", "scale": {"type": "point", "domain": ["OA SC", "IL-37+OA SC"], "padding": 0.5}, "axis": {"title": null}},
               "y": {"field": "foot", "type": "quantitative", "scale": {"domain": [0, 1000], "nice": false}, "axis": {"values": [0, 200, 400, 600, 800, 1000], "format": "d", "labelOverlap": false, "labelFlush": false, "title": "IL-6 (pg/ml)", "titleFontWeight": "bold"}},
               "y2": {"field": "top"}}},
            {"data": {"name": "sig_il6"}, "mark": {"type": "text", "dx": 32, "fontSize": 13, "color": "#333", "baseline": "middle"},
             "encoding": {
               "x": {"field": "from", "type": "nominal", "scale": {"type": "point", "domain": ["OA SC", "IL-37+OA SC"], "padding": 0.5}, "axis": {"title": null}},
               "y": {"field": "stary", "type": "quantitative", "scale": {"domain": [0, 1000], "nice": false}, "axis": {"values": [0, 200, 400, 600, 800, 1000], "format": "d", "labelOverlap": false, "labelFlush": false, "title": "IL-6 (pg/ml)", "titleFontWeight": "bold"}},
               "text": {"field": "label"}}}
          ]
        }
      ]
    }
  ]
}
